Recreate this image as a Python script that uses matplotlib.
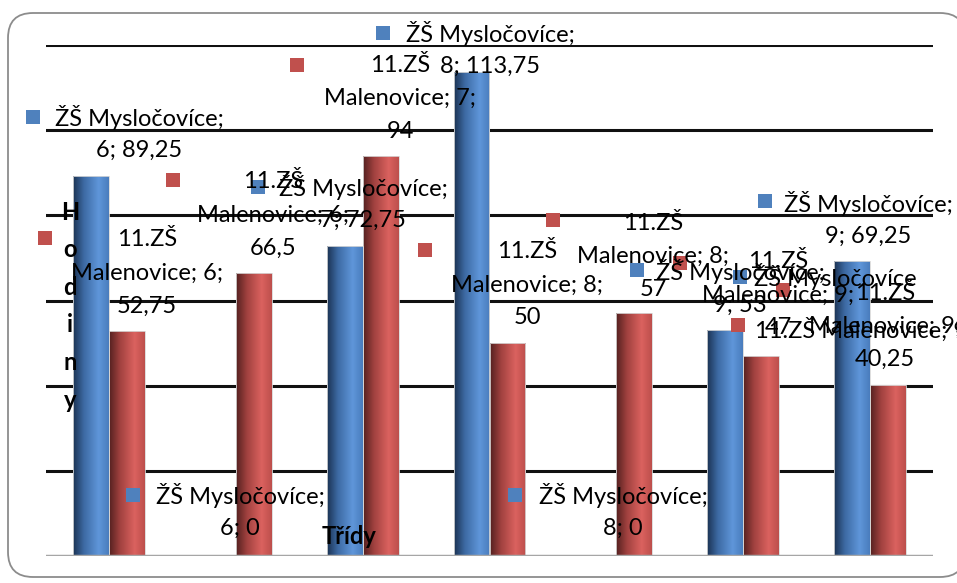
import numpy as np
import matplotlib
matplotlib.use('Agg')
import matplotlib.pyplot as plt
from matplotlib.colors import LinearSegmentedColormap
from matplotlib.patches import FancyBboxPatch, Rectangle

# data
categories = ['6', '6', '7', '8', '8', '9', '9']
mysl = [89.25, 0, 72.75, 113.75, 0, 53, 69.25]
male = [52.75, 66.5, 94, 50, 57, 47, 40.25]
series_names = ['ŽŠ Mysločovíce', '11.ZŠ Malenovice']
ylabel = 'Hodiny'
xlabel = 'Třídy'

# label anchors in pixels: (marker x, marker y, text centre x, first line y)
blue_pos = [(33, 117, 139, 117), (133, 495, 240, 495), (258, 187, 363, 187),
            (383, 33, 490, 33), (515, 495, 623, 495), (637, 270, 740, 272),
            (765, 201, 868, 203)]
red_pos = [(45, 238, 147, 240), (173, 180, 273, 182), (297, 65, 400, 65),
           (425, 250, 527, 252), (553, 220, 653, 223), (680, 263, 778, 262),
           (783, 290, 885, 293)]

plt.rcParams['font.family'] = ['Lato', 'DejaVu Sans']
W, H = 957, 583
fig = plt.figure(figsize=(W / 100, H / 100), dpi=100)
tr = fig.dpi_scale_trans


def P(x, y):
    return x / 100, (H - y) / 100


def fmt(v):
    return f'{v:g}'.replace('.', ',')


# outer frame
fig.add_artist(FancyBboxPatch(P(8, 577), (965 - 8) / 100, (577 - 13) / 100,
                              boxstyle='round,pad=0,rounding_size=0.25',
                              transform=tr, fc='white', ec='#8c8c8c', lw=1.3, zorder=-1))

ax = fig.add_axes([46 / W, 1 - 556 / H, 887 / W, 511 / H])
ax.patch.set_alpha(0)
for s in ax.spines.values():
    s.set_visible(False)
ax.set_xticks([])
ax.set_yticks(np.arange(20, 121, 20))
ax.tick_params(length=0, labelleft=False)
ax.yaxis.grid(True, color='#111111', lw=2.2)
ax.set_axisbelow(True)
ax.axhline(0, color='#a6a6a6', lw=2.5, zorder=4)

blue_cmap = LinearSegmentedColormap.from_list('b', [(0, '#1b3354'), (0.3, '#3d6aa3'),
                                                    (0.72, '#5f96da'), (1, '#4a7dbd')])
red_cmap = LinearSegmentedColormap.from_list('r', [(0, '#552120'), (0.3, '#a0413f'),
                                                   (0.72, '#db625f'), (1, '#bd4f4c')])
grad = np.linspace(0, 1, 64).reshape(1, -1)
x = np.arange(len(categories))
w = 0.284
for vals, off, cmap in [(mysl, -w / 2, blue_cmap), (male, w / 2, red_cmap)]:
    bars = ax.bar(x + off, vals, w, color='none', edgecolor='#d8d8d8', lw=0.6, zorder=3)
    for b in bars:
        h = b.get_height()
        if h <= 0:
            continue
        im = ax.imshow(grad, cmap=cmap, extent=[b.get_x(), b.get_x() + b.get_width(), 0, h],
                       aspect='auto', zorder=2.5, interpolation='bilinear')
        im.set_clip_path(b)
ax.set_xlim(-0.5, len(categories) - 0.5)
ax.set_ylim(0, 120)

fs = 17
lh = 33


def marker(mx, my, color):
    fig.add_artist(Rectangle(P(mx - 7, my + 7), 0.14, 0.14, transform=tr,
                             fc=color, ec='none', zorder=5))


def lines(cx, y1, rows):
    for i, r in enumerate(rows):
        fig.text(*P(cx, y1 + i * lh), r, transform=tr, ha='center', va='center',
                 fontsize=fs, color='black', zorder=6)


for i, (cat, v) in enumerate(zip(categories, mysl)):
    mx, my, cx, y1 = blue_pos[i]
    marker(mx, my, '#4f81bd')
    lines(cx, y1, [series_names[0] + ';', f'{cat}; {fmt(v)}'])

name_a, name_b = series_names[1].split(' ')
for i, (cat, v) in enumerate(zip(categories, male)):
    mx, my, cx, y1 = red_pos[i]
    marker(mx, my, '#c0504d')
    lines(cx, y1, [name_a, f'{name_b}; {cat};', fmt(v)])

# stray overlapping labels for the first "9" group
marker(740, 277, '#4f81bd')
lines(835, 277, [series_names[0]])
marker(738, 325, '#c0504d')
fig.text(*P(755, 330), f'{series_names[1]}; {categories[5]}; {fmt(male[5])}',
         transform=tr, ha='left', va='center', fontsize=fs, zorder=6)

# axis titles
for i, ch in enumerate(ylabel):
    fig.text(*P(70, 212 + i * 37.6), ch, transform=tr, ha='center', va='center',
             fontsize=fs, fontweight='bold', zorder=6)
fig.text(*P(349, 537), xlabel, transform=tr, ha='center', va='center',
         fontsize=fs, fontweight='bold', zorder=6)

fig.savefig('out.png', dpi=100)
